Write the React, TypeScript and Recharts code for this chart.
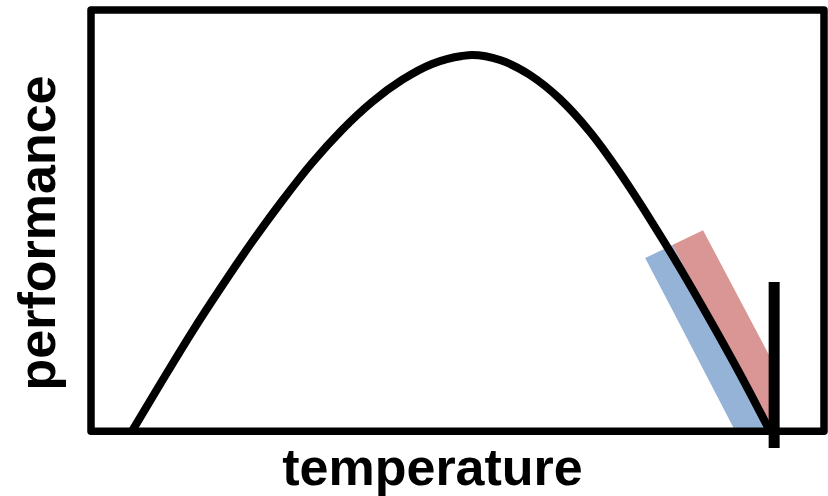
import React from "react";
import { ComposedChart, Line, Area, XAxis, YAxis, ReferenceArea } from "recharts";

if (typeof document !== "undefined") {
  document.body.style.margin = "0";
  document.body.style.overflow = "hidden";
}

// thermal performance curve: temperature (0-100) vs performance (0-100)
const curveTemps = [5.59, 9.69, 13.78, 17.87, 21.96, 26.06, 30.15, 34.24, 38.34, 42.43, 46.52, 50.61, 51.98, 55.8, 59.89, 63.98, 68.08, 72.17, 76.26, 80.35, 84.45, 88.54, 92.63];
const curvePerf = [0, 11.91, 23.54, 34.46, 44.91, 54.65, 63.67, 71.51, 78.15, 83.38, 87.18, 89.08, 89.31, 88.13, 84.57, 78.87, 71.03, 61.3, 50.37, 38.74, 26.39, 13.57, 0];

// blue band (below the tangent)
const blueTemps = [75.6, 79.3, 87.9, 92.8];
const blueLow = [41.1, 28.8, 0, 0];
const blueHigh = [41.1, 44.2, 16.1, 0];

// red band (above the tangent)
const redTemps = [79.3, 83.5, 92.8];
const redLow = [44.2, 30.4, 0];
const redHigh = [44.2, 47.7, 17.1];

// critical thermal maximum marker
const ctMaxTemp = [93.2, 93.2];
const ctMaxPerf = [-4, 35.4];

const xLabel = "temperature";
const yLabel = "performance";

const curve = curveTemps.map((t, i) => ({ t, p: curvePerf[i] }));
const blueBand = blueTemps.map((t, i) => ({ t, range: [blueLow[i], blueHigh[i]] }));
const redBand = redTemps.map((t, i) => ({ t, range: [redLow[i], redHigh[i]] }));
const ctMax = ctMaxTemp.map((t, i) => ({ t, p: ctMaxPerf[i] }));

const FONT = "'Liberation Sans', Arial, sans-serif";

const XLab = (props: any) => {
  const vb = props.viewBox || { x: 0, y: 0, width: 0, height: 0 };
  return (
    <text x={vb.x + vb.width / 2 - 25} y={vb.y + 37} textAnchor="middle" fontFamily={FONT} fontWeight="bold" fontSize={52} fill="#000">
      {xLabel}
    </text>
  );
};

const YLab = (props: any) => {
  const vb = props.viewBox || { x: 0, y: 0, width: 0, height: 0 };
  const x = 55;
  const y = vb.y + vb.height / 2 + 4;
  return (
    <text x={x} y={y} transform={`rotate(-90, ${x}, ${y})`} textAnchor="middle" fontFamily={FONT} fontWeight="bold" fontSize={52} fill="#000">
      {yLabel}
    </text>
  );
};

export default function App() {
  return (
    <div style={{ width: 828, height: 496, background: "#fff" }}>
      <ComposedChart width={828} height={496} margin={{ top: 10, right: 4, bottom: 0, left: 0 }}>
        <XAxis
          type="number"
          dataKey="t"
          domain={[0, 100]}
          allowDataOverflow
          tick={false}
          tickLine={false}
          axisLine={false}
          height={48}
          label={{ content: <XLab /> }}
        />
        <YAxis
          type="number"
          domain={[-4, 100]}
          allowDataOverflow
          tick={false}
          tickLine={false}
          axisLine={false}
          width={91}
          label={{ content: <YLab /> }}
        />
        <Area data={redBand} dataKey="range" type="linear" fill="#D99694" fillOpacity={1} stroke="none" isAnimationActive={false} />
        <Area data={blueBand} dataKey="range" type="linear" fill="#95B3D7" fillOpacity={1} stroke="none" isAnimationActive={false} />
        <ReferenceArea x1={0} x2={100} y1={0} y2={100} fill="none" fillOpacity={0} stroke="#000" strokeWidth={7.5} strokeLinejoin="round" />
        <Line data={curve} dataKey="p" type="monotone" stroke="#000" strokeWidth={8} dot={false} activeDot={false} isAnimationActive={false} />
        <Line data={ctMax} dataKey="p" type="linear" stroke="#000" strokeWidth={11} dot={false} activeDot={false} isAnimationActive={false} />
      </ComposedChart>
    </div>
  );
}
